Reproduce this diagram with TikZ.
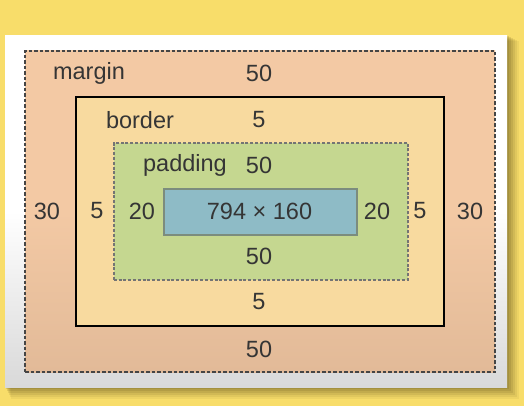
\documentclass[tikz,border=0pt]{standalone}
\usepackage{fontspec}
\setmainfont{Liberation Sans}
\definecolor{bgyellow}{HTML}{F8DD6A}
\definecolor{shadowc}{HTML}{5E5018}
\definecolor{marginc}{HTML}{F3C9A4}
\definecolor{marginbot}{HTML}{E2BA98}
\definecolor{borderc}{HTML}{F8DA9F}
\definecolor{paddingc}{HTML}{C5D790}
\definecolor{contentc}{HTML}{8EBBC6}
\definecolor{contentline}{HTML}{7C8C7E}
\definecolor{dashc}{HTML}{454545}
\definecolor{txt}{HTML}{353535}
\tikzset{
  boxbase/.style={draw, rectangle, inner sep=0pt, anchor=north west},
  dashbox/.style={boxbase, draw=dashc, line width=2pt, dash pattern=on 3.5pt off 2pt},
  lbl/.style={text=txt, inner sep=0pt, font=\fontsize{23.5}{27}\selectfont},
}
\begin{document}
\begin{tikzpicture}[x=1pt,y=-1pt]
\useasboundingbox (0,0) rectangle (524,406);
\fill[bgyellow] (0,0) rectangle (524,406);
% card shadow
\foreach \d/\o in {12/0.07,10/0.09,8/0.11,6/0.13,4/0.15,2/0.17}{
  \fill[shadowc,opacity=\o] (5+\d*0.5,35+\d*0.5) rectangle (507+\d,387+\d);
}
% card
\node[boxbase, draw=none, minimum width=502pt, minimum height=352pt,
  top color=white, bottom color=white!85!black, middle color=white] (card) at (5,35) {};
% margin box
\node[dashbox, minimum width=470pt, minimum height=321pt,
  top color=marginc, bottom color=marginbot, middle color=marginc] (margin) at (24,50) {};
% border box
\node[boxbase, draw=black, line width=1.8pt, fill=borderc,
  minimum width=368pt, minimum height=229pt] (border) at (75,96) {};
% padding box
\node[dashbox, fill=paddingc, line width=1.6pt, dash pattern=on 3pt off 1.8pt, draw=dashc!75,
  minimum width=294pt, minimum height=137pt] (padding) at (113,142) {};
% content box
\node[boxbase, draw=contentline, line width=1.6pt, fill=contentc,
  minimum width=193pt, minimum height=46pt] (content) at (163,188) {};
% labels
\node[lbl] (mlbl) at (89,73) {margin};
\node[lbl] (mtop) at (259,73) {50};
\node[lbl] (blbl) at (140,120) {border};
\node[lbl] (btop) at (259,120) {5};
\node[lbl] (plbl) at (185,165) {padding};
\node[lbl] (ptop) at (259,165) {50};
\node[lbl] (csize) at (259.5,211) {794 × 160};
\node[lbl] (pleft) at (142,211) {20};
\node[lbl] (pright) at (377,211) {20};
\node[lbl] (bleft) at (97,211) {5};
\node[lbl] (bright) at (420,211) {5};
\node[lbl] (mleft) at (47,211) {30};
\node[lbl] (mright) at (470,211) {30};
\node[lbl] (pbot) at (259,256) {50};
\node[lbl] (bbot) at (259,302) {5};
\node[lbl] (mbot) at (259,349) {50};
\end{tikzpicture}
\end{document}
